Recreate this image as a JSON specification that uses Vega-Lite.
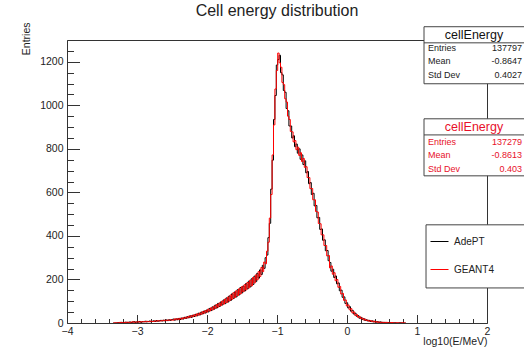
{
"$schema": "https://vega.github.io/schema/vega-lite/v6.json",
"width": 420, "height": 283,
"autosize": {"type": "none"},
"padding": {"left": 67, "top": 40, "right": 37, "bottom": 24},
"background": "white",
"title": {"text": "Cell energy distribution", "fontSize": 16, "font": "Liberation Sans", "fontWeight": "normal", "color": "#222", "anchor": "middle", "frame": "group", "offset": 3},
"data": {"values": [
{"x":-3.34,"AdePT":0,"GEANT4":0},
{"x":-3.30,"AdePT":0,"GEANT4":1},{"x":-3.28,"AdePT":1,"GEANT4":0},{"x":-3.26,"AdePT":2,"GEANT4":1},{"x":-3.24,"AdePT":1,"GEANT4":3},{"x":-3.22,"AdePT":3,"GEANT4":2},
{"x":-3.20,"AdePT":2,"GEANT4":1},{"x":-3.18,"AdePT":1,"GEANT4":3},{"x":-3.16,"AdePT":4,"GEANT4":2},{"x":-3.14,"AdePT":2,"GEANT4":4},{"x":-3.12,"AdePT":3,"GEANT4":3},
{"x":-3.10,"AdePT":5,"GEANT4":2},{"x":-3.08,"AdePT":2,"GEANT4":4},{"x":-3.06,"AdePT":4,"GEANT4":6},{"x":-3.04,"AdePT":6,"GEANT4":3},{"x":-3.02,"AdePT":3,"GEANT4":5},
{"x":-3.00,"AdePT":5,"GEANT4":4},{"x":-2.98,"AdePT":4,"GEANT4":6},{"x":-2.96,"AdePT":7,"GEANT4":4},{"x":-2.94,"AdePT":3,"GEANT4":6},{"x":-2.92,"AdePT":6,"GEANT4":5},
{"x":-2.90,"AdePT":5,"GEANT4":7},{"x":-2.88,"AdePT":8,"GEANT4":5},{"x":-2.86,"AdePT":5,"GEANT4":8},{"x":-2.84,"AdePT":7,"GEANT4":6},{"x":-2.82,"AdePT":9,"GEANT4":6},
{"x":-2.80,"AdePT":6,"GEANT4":9},{"x":-2.78,"AdePT":8,"GEANT4":7},{"x":-2.76,"AdePT":10,"GEANT4":7},{"x":-2.74,"AdePT":7,"GEANT4":10},{"x":-2.72,"AdePT":11,"GEANT4":8},
{"x":-2.70,"AdePT":8,"GEANT4":11},{"x":-2.68,"AdePT":10,"GEANT4":9},{"x":-2.66,"AdePT":12,"GEANT4":9},{"x":-2.64,"AdePT":9,"GEANT4":12},{"x":-2.62,"AdePT":13,"GEANT4":10},
{"x":-2.60,"AdePT":10,"GEANT4":13},{"x":-2.58,"AdePT":14,"GEANT4":11},{"x":-2.56,"AdePT":11,"GEANT4":14},{"x":-2.54,"AdePT":15,"GEANT4":12},{"x":-2.52,"AdePT":12,"GEANT4":15},
{"x":-2.50,"AdePT":16,"GEANT4":13},{"x":-2.48,"AdePT":18,"GEANT4":13},{"x":-2.46,"AdePT":13,"GEANT4":19},{"x":-2.44,"AdePT":19,"GEANT4":15},{"x":-2.42,"AdePT":15,"GEANT4":20},
{"x":-2.40,"AdePT":21,"GEANT4":16},{"x":-2.38,"AdePT":16,"GEANT4":22},{"x":-2.36,"AdePT":23,"GEANT4":18},{"x":-2.34,"AdePT":18,"GEANT4":24},{"x":-2.32,"AdePT":26,"GEANT4":21},
{"x":-2.30,"AdePT":21,"GEANT4":27},{"x":-2.28,"AdePT":29,"GEANT4":23},{"x":-2.26,"AdePT":24,"GEANT4":31},{"x":-2.24,"AdePT":33,"GEANT4":26},{"x":-2.22,"AdePT":26,"GEANT4":34},
{"x":-2.20,"AdePT":36,"GEANT4":29},{"x":-2.18,"AdePT":30,"GEANT4":38},{"x":-2.16,"AdePT":40,"GEANT4":32},{"x":-2.14,"AdePT":33,"GEANT4":42},{"x":-2.12,"AdePT":45,"GEANT4":36},
{"x":-2.10,"AdePT":37,"GEANT4":46},{"x":-2.08,"AdePT":50,"GEANT4":40},{"x":-2.06,"AdePT":42,"GEANT4":52},{"x":-2.04,"AdePT":55,"GEANT4":45},{"x":-2.02,"AdePT":46,"GEANT4":57},
{"x":-2.00,"AdePT":60,"GEANT4":50},{"x":-1.98,"AdePT":51,"GEANT4":64},{"x":-1.96,"AdePT":67,"GEANT4":55},{"x":-1.94,"AdePT":57,"GEANT4":70},{"x":-1.92,"AdePT":74,"GEANT4":60},
{"x":-1.90,"AdePT":63,"GEANT4":77},{"x":-1.88,"AdePT":82,"GEANT4":67},{"x":-1.86,"AdePT":69,"GEANT4":85},{"x":-1.84,"AdePT":90,"GEANT4":73},{"x":-1.82,"AdePT":76,"GEANT4":92},
{"x":-1.80,"AdePT":97,"GEANT4":80},{"x":-1.78,"AdePT":83,"GEANT4":101},{"x":-1.76,"AdePT":106,"GEANT4":87},{"x":-1.74,"AdePT":89,"GEANT4":110},{"x":-1.72,"AdePT":115,"GEANT4":94},
{"x":-1.70,"AdePT":96,"GEANT4":119},{"x":-1.68,"AdePT":124,"GEANT4":101},{"x":-1.66,"AdePT":104,"GEANT4":129},{"x":-1.64,"AdePT":134,"GEANT4":109},{"x":-1.62,"AdePT":113,"GEANT4":139},
{"x":-1.60,"AdePT":143,"GEANT4":117},{"x":-1.58,"AdePT":120,"GEANT4":148},{"x":-1.56,"AdePT":153,"GEANT4":126},{"x":-1.54,"AdePT":129,"GEANT4":157},{"x":-1.52,"AdePT":163,"GEANT4":134},
{"x":-1.50,"AdePT":138,"GEANT4":167},{"x":-1.48,"AdePT":170,"GEANT4":144},{"x":-1.46,"AdePT":147,"GEANT4":176},{"x":-1.44,"AdePT":181,"GEANT4":152},{"x":-1.42,"AdePT":157,"GEANT4":186},
{"x":-1.40,"AdePT":192,"GEANT4":161},{"x":-1.38,"AdePT":166,"GEANT4":197},{"x":-1.36,"AdePT":203,"GEANT4":171},{"x":-1.34,"AdePT":177,"GEANT4":209},{"x":-1.32,"AdePT":215,"GEANT4":184},
{"x":-1.30,"AdePT":190,"GEANT4":221},{"x":-1.28,"AdePT":228,"GEANT4":198},{"x":-1.26,"AdePT":206,"GEANT4":236},{"x":-1.24,"AdePT":244,"GEANT4":214},{"x":-1.22,"AdePT":223,"GEANT4":255},
{"x":-1.20,"AdePT":265,"GEANT4":236},{"x":-1.18,"AdePT":251,"GEANT4":280},{"x":-1.16,"AdePT":300,"GEANT4":272},{"x":-1.14,"AdePT":312,"GEANT4":330},{"x":-1.12,"AdePT":392,"GEANT4":371},
{"x":-1.10,"AdePT":458,"GEANT4":482},{"x":-1.08,"AdePT":615,"GEANT4":590},{"x":-1.06,"AdePT":748,"GEANT4":772},{"x":-1.04,"AdePT":935,"GEANT4":910},{"x":-1.02,"AdePT":1045,"GEANT4":1075},
{"x":-1.00,"AdePT":1185,"GEANT4":1160},{"x":-0.98,"AdePT":1210,"GEANT4":1240},{"x":-0.96,"AdePT":1230,"GEANT4":1195},{"x":-0.94,"AdePT":1150,"GEANT4":1175},{"x":-0.92,"AdePT":1140,"GEANT4":1105},
{"x":-0.90,"AdePT":1068,"GEANT4":1095},{"x":-0.88,"AdePT":1060,"GEANT4":1030},{"x":-0.86,"AdePT":985,"GEANT4":1015},{"x":-0.84,"AdePT":975,"GEANT4":950},{"x":-0.82,"AdePT":905,"GEANT4":935},
{"x":-0.80,"AdePT":905,"GEANT4":880},{"x":-0.78,"AdePT":850,"GEANT4":878},{"x":-0.76,"AdePT":860,"GEANT4":832},{"x":-0.74,"AdePT":810,"GEANT4":838},{"x":-0.72,"AdePT":822,"GEANT4":796},
{"x":-0.70,"AdePT":780,"GEANT4":808},{"x":-0.68,"AdePT":800,"GEANT4":770},{"x":-0.66,"AdePT":752,"GEANT4":782},{"x":-0.64,"AdePT":772,"GEANT4":742},{"x":-0.62,"AdePT":728,"GEANT4":756},
{"x":-0.60,"AdePT":745,"GEANT4":715},{"x":-0.58,"AdePT":690,"GEANT4":718},{"x":-0.56,"AdePT":696,"GEANT4":668},{"x":-0.54,"AdePT":640,"GEANT4":668},{"x":-0.52,"AdePT":645,"GEANT4":617},
{"x":-0.50,"AdePT":590,"GEANT4":618},{"x":-0.48,"AdePT":596,"GEANT4":566},{"x":-0.46,"AdePT":538,"GEANT4":566},{"x":-0.44,"AdePT":540,"GEANT4":512},{"x":-0.42,"AdePT":483,"GEANT4":510},
{"x":-0.40,"AdePT":485,"GEANT4":457},{"x":-0.38,"AdePT":430,"GEANT4":456},{"x":-0.36,"AdePT":432,"GEANT4":405},{"x":-0.34,"AdePT":380,"GEANT4":405},{"x":-0.32,"AdePT":382,"GEANT4":356},
{"x":-0.30,"AdePT":332,"GEANT4":356},{"x":-0.28,"AdePT":333,"GEANT4":308},{"x":-0.26,"AdePT":286,"GEANT4":310},{"x":-0.24,"AdePT":278,"GEANT4":253},{"x":-0.22,"AdePT":238,"GEANT4":262},
{"x":-0.20,"AdePT":247,"GEANT4":224},{"x":-0.18,"AdePT":209,"GEANT4":231},{"x":-0.16,"AdePT":216,"GEANT4":194},{"x":-0.14,"AdePT":180,"GEANT4":200},{"x":-0.12,"AdePT":184,"GEANT4":164},
{"x":-0.10,"AdePT":148,"GEANT4":168},{"x":-0.08,"AdePT":151,"GEANT4":133},{"x":-0.06,"AdePT":118,"GEANT4":136},{"x":-0.04,"AdePT":120,"GEANT4":104},{"x":-0.02,"AdePT":90,"GEANT4":106},
{"x":0.00,"AdePT":93,"GEANT4":78},{"x":0.02,"AdePT":69,"GEANT4":83},{"x":0.04,"AdePT":75,"GEANT4":61},{"x":0.06,"AdePT":54,"GEANT4":66},{"x":0.08,"AdePT":58,"GEANT4":46},
{"x":0.10,"AdePT":41,"GEANT4":51},{"x":0.12,"AdePT":45,"GEANT4":35},{"x":0.14,"AdePT":31,"GEANT4":39},{"x":0.16,"AdePT":34,"GEANT4":26},{"x":0.18,"AdePT":22,"GEANT4":30},
{"x":0.20,"AdePT":26,"GEANT4":20},{"x":0.22,"AdePT":17,"GEANT4":23},{"x":0.24,"AdePT":20,"GEANT4":14},{"x":0.26,"AdePT":12,"GEANT4":18},{"x":0.28,"AdePT":15,"GEANT4":11},
{"x":0.30,"AdePT":9,"GEANT4":13},{"x":0.32,"AdePT":12,"GEANT4":8},{"x":0.34,"AdePT":7,"GEANT4":11},{"x":0.36,"AdePT":10,"GEANT4":6},{"x":0.38,"AdePT":5,"GEANT4":9},
{"x":0.40,"AdePT":8,"GEANT4":4},{"x":0.42,"AdePT":4,"GEANT4":7},{"x":0.44,"AdePT":6,"GEANT4":3},{"x":0.46,"AdePT":3,"GEANT4":5},{"x":0.48,"AdePT":5,"GEANT4":2},
{"x":0.50,"AdePT":2,"GEANT4":4},{"x":0.52,"AdePT":3,"GEANT4":2},{"x":0.56,"AdePT":1,"GEANT4":3},{"x":0.60,"AdePT":2,"GEANT4":1},{"x":0.64,"AdePT":0,"GEANT4":2},
{"x":0.68,"AdePT":1,"GEANT4":0},{"x":0.72,"AdePT":0,"GEANT4":1},{"x":0.76,"AdePT":1,"GEANT4":0},{"x":0.80,"AdePT":0,"GEANT4":1},{"x":0.84,"AdePT":0,"GEANT4":0}
]},
"transform": [{"fold": ["AdePT", "GEANT4"], "as": ["series", "entries"]}],
"layer": [
{"mark": {"type": "line", "strokeWidth": 1, "interpolate": "step", "clip": true},
 "encoding": {
  "x": {"field": "x", "type": "quantitative", "scale": {"domain": [-4, 2], "nice": false, "zero": false},
    "axis": {"orient": "bottom", "values": [-4,-3,-2,-1,0,1,2], "format": "d", "ticks": false, "domain": true, "domainColor": "#333", "grid": false,
      "labelFont": "Liberation Sans", "labelFontSize": 10.5, "labelColor": "#222", "labelPadding": 3, "labelFlush": false, "labelOverlap": false,
      "title": "log10(E/MeV)", "titleFont": "Liberation Sans", "titleFontSize": 10.5, "titleFontWeight": "normal", "titleColor": "#222",
      "titleAlign": "right", "titleX": 420, "titleY": 21, "titleBaseline": "alphabetic"}},
  "y": {"field": "entries", "type": "quantitative", "scale": {"domain": [0, 1300], "nice": false},
    "axis": {"orient": "left", "values": [0,200,400,600,800,1000,1200], "format": "d", "ticks": false, "domain": true, "domainColor": "#333", "grid": false,
      "labelFont": "Liberation Sans", "labelFontSize": 10.5, "labelColor": "#222", "labelPadding": 4,
      "title": "Entries", "titleFont": "Liberation Sans", "titleFontSize": 10.5, "titleFontWeight": "normal", "titleColor": "#222",
      "titleAngle": -90, "titleAlign": "right", "titleX": -38, "titleY": -18, "titleBaseline": "alphabetic"}},
  "color": {"field": "series", "type": "nominal", "scale": {"domain": ["AdePT", "GEANT4"], "range": ["#000000", "#ff0000"]},
    "legend": {"orient": "none", "legendX": 357, "legendY": 186, "title": null, "padding": 6,
      "symbolType": "stroke", "symbolSize": 324, "symbolStrokeWidth": 1, "labelFont": "Liberation Sans", "labelFontSize": 10, "labelColor": "#222",
      "labelOffset": 5, "rowPadding": 13}}
 }},
{"mark": {"type": "point", "opacity": 0},
 "encoding": {
  "x": {"field": "x", "type": "quantitative", "scale": {"domain": [-4, 2], "nice": false, "zero": false},
    "axis": {"orient": "bottom", "values": [-4,-3,-2,-1,0,1,2], "labels": false, "domain": false, "ticks": true, "tickSize": -8.5, "tickColor": "#333", "grid": false, "title": null}},
  "y": {"field": "entries", "type": "quantitative", "scale": {"domain": [0, 1300], "nice": false},
    "axis": {"orient": "left", "values": [0,200,400,600,800,1000,1200], "labels": false, "domain": false, "ticks": true, "tickSize": -12.5, "tickColor": "#333", "grid": false, "title": null}}
 }},
{"mark": {"type": "point", "opacity": 0},
 "encoding": {
  "x": {"field": "x", "type": "quantitative", "scale": {"domain": [-4, 2], "nice": false, "zero": false},
    "axis": {"orient": "bottom", "values": [-3.8,-3.6,-3.4,-3.2,-2.8,-2.6,-2.4,-2.2,-1.8,-1.6,-1.4,-1.2,-0.8,-0.6,-0.4,-0.2,0.2,0.4,0.6,0.8,1.2,1.4,1.6,1.8], "labels": false, "domain": false, "ticks": true, "tickSize": -4.5, "tickColor": "#333", "grid": false, "title": null}},
  "y": {"field": "entries", "type": "quantitative", "scale": {"domain": [0, 1300], "nice": false},
    "axis": {"orient": "left", "values": [50,100,150,250,300,350,450,500,550,650,700,750,850,900,950,1050,1100,1150,1250,1300], "labels": false, "domain": false, "ticks": true, "tickSize": -6.5, "tickColor": "#333", "grid": false, "title": null}}
 }},
{"mark": {"type": "point", "opacity": 0},
 "encoding": {
  "x": {"field": "x", "type": "quantitative", "scale": {"domain": [-4, 2], "nice": false, "zero": false},
    "axis": {"orient": "top", "labels": false, "ticks": false, "domain": true, "domainColor": "#333", "grid": false, "title": null}},
  "y": {"field": "entries", "type": "quantitative", "scale": {"domain": [0, 1300], "nice": false},
    "axis": {"orient": "right", "labels": false, "ticks": false, "domain": true, "domainColor": "#333", "grid": false, "title": null}}
 }},
{"data": {"values": [{}]},
 "mark": {"type": "rect", "fill": "white", "stroke": "#444", "strokeWidth": 1},
 "encoding": {"x": {"datum": 1.1, "axis": null}, "x2": {"datum": 2.7}, "y": {"datum": 1361, "axis": null}, "y2": {"datum": 1099}}},
{"data": {"values": [{}]},
 "mark": {"type": "rule", "stroke": "#444", "strokeWidth": 1},
 "encoding": {"x": {"datum": 1.1, "axis": null}, "x2": {"datum": 2.7}, "y": {"datum": 1287, "axis": null}}},
{"data": {"values": [{}]},
 "mark": {"type": "text", "font": "Liberation Sans", "fontSize": 12.5, "color": "#111", "align": "center", "baseline": "middle"},
 "encoding": {"x": {"datum": 1.814, "axis": null}, "y": {"datum": 1324, "axis": null}, "text": {"value": "cellEnergy"}}},
{"data": {"values": [{}]},
 "mark": {"type": "text", "font": "Liberation Sans", "fontSize": 9, "color": "#222", "align": "left", "baseline": "middle", "lineHeight": 13.5},
 "encoding": {"x": {"datum": 1.157, "axis": null}, "y": {"datum": 1264, "axis": null}, "text": {"value": ["Entries", "Mean", "Std Dev"]}}},
{"data": {"values": [{}]},
 "mark": {"type": "text", "font": "Liberation Sans", "fontSize": 9, "color": "#222", "align": "right", "baseline": "middle", "lineHeight": 13.5},
 "encoding": {"x": {"datum": 2.5, "axis": null}, "y": {"datum": 1264, "axis": null}, "text": {"value": ["137797", "-0.8647", "0.4027"]}}},
{"data": {"values": [{}]},
 "mark": {"type": "rect", "fill": "white", "stroke": "#444", "strokeWidth": 1},
 "encoding": {"x": {"datum": 1.1, "axis": null}, "x2": {"datum": 2.7}, "y": {"datum": 938, "axis": null}, "y2": {"datum": 676}}},
{"data": {"values": [{}]},
 "mark": {"type": "rule", "stroke": "#444", "strokeWidth": 1},
 "encoding": {"x": {"datum": 1.1, "axis": null}, "x2": {"datum": 2.7}, "y": {"datum": 864, "axis": null}}},
{"data": {"values": [{}]},
 "mark": {"type": "text", "font": "Liberation Sans", "fontSize": 12.5, "color": "#e8102a", "align": "center", "baseline": "middle"},
 "encoding": {"x": {"datum": 1.814, "axis": null}, "y": {"datum": 901, "axis": null}, "text": {"value": "cellEnergy"}}},
{"data": {"values": [{}]},
 "mark": {"type": "text", "font": "Liberation Sans", "fontSize": 9, "color": "#e8102a", "align": "left", "baseline": "middle", "lineHeight": 13.5},
 "encoding": {"x": {"datum": 1.157, "axis": null}, "y": {"datum": 832, "axis": null}, "text": {"value": ["Entries", "Mean", "Std Dev"]}}},
{"data": {"values": [{}]},
 "mark": {"type": "text", "font": "Liberation Sans", "fontSize": 9, "color": "#e8102a", "align": "right", "baseline": "middle", "lineHeight": 13.5},
 "encoding": {"x": {"datum": 2.5, "axis": null}, "y": {"datum": 832, "axis": null}, "text": {"value": ["137279", "-0.8613", "0.403"]}}},
{"data": {"values": [{}]},
 "mark": {"type": "rect", "fill": "white", "stroke": "#444", "strokeWidth": 1},
 "encoding": {"x": {"datum": 1.129, "axis": null}, "x2": {"datum": 2.7}, "y": {"datum": 451, "axis": null}, "y2": {"datum": 161}}}
],
"resolve": {"axis": {"x": "independent", "y": "independent"}},
"config": {"view": {"stroke": null}, "font": "Liberation Sans"}
}
